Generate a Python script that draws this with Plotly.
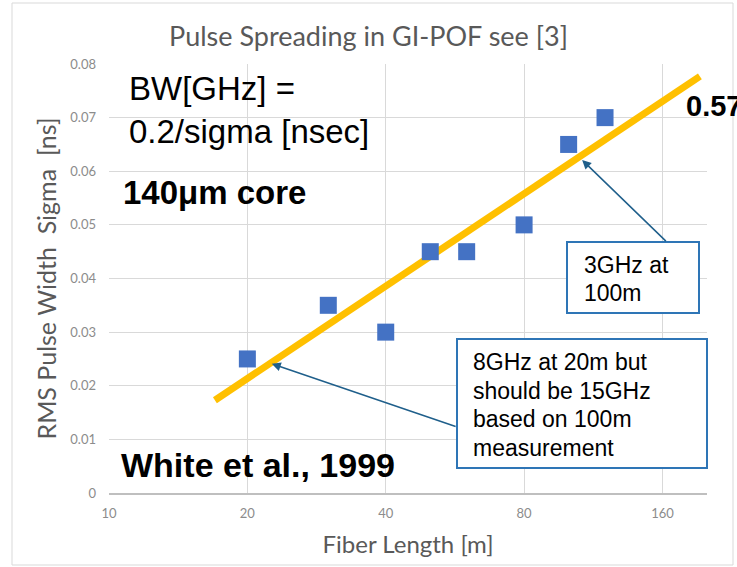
import numpy as np
import plotly.graph_objects as go

# Data
fiber_length = [20, 30, 40, 50, 60, 80, 100, 120]
sigma_ns = [0.025, 0.035, 0.030, 0.045, 0.045, 0.050, 0.065, 0.070]
trend_x = [17, 193]
trend_y = [0.0173, 0.0777]
x_ticks = [10, 20, 40, 80, 160]
y_ticks = [0, 0.01, 0.02, 0.03, 0.04, 0.05, 0.06, 0.07, 0.08]

W, H = 737, 567
L, R, T, B = 109, 30, 64, 74

fig = go.Figure()
fig.add_trace(go.Scatter(x=trend_x, y=trend_y, mode="lines",
                         line=dict(color="#FFC000", width=7), showlegend=False, hoverinfo="skip"))
fig.add_trace(go.Scatter(x=fiber_length, y=sigma_ns, mode="markers",
                         marker=dict(symbol="square", size=17, color="#4472C4"),
                         showlegend=False))

grid = "#D9D9D9"
sans = "Lato, Open Sans, sans-serif"
tickfont = dict(family=sans, size=13, color="#8C8C8C")
fig.update_xaxes(type="log", range=[np.log10(10), np.log10(200)],
                 tickvals=x_ticks, ticktext=[str(v) for v in x_ticks],
                 showgrid=True, gridcolor=grid, gridwidth=1,
                 showline=True, linecolor="#BFBFBF", linewidth=1.5,
                 zeroline=False, ticks="", tickfont=tickfont, ticklabelstandoff=8,
                 title=dict(text="Fiber Length [m]", font=dict(family=sans, size=24, color="#595959"),
                            standoff=16))
fig.update_yaxes(range=[0, 0.08], tickvals=y_ticks,
                 ticktext=["0"] + [f"{v:.2f}" for v in y_ticks[1:]],
                 showgrid=True, gridcolor=grid, gridwidth=1, zeroline=False,
                 showline=False, ticks="", tickfont=tickfont, ticklabelstandoff=12,
                 title=dict(text="RMS Pulse Width  Sigma  [ns]",
                            font=dict(family=sans, size=25, color="#595959"),
                            standoff=6))

def px(x):
    return (x - L) / (W - L - R)

def py(y):
    return 1 - (y - T) / (H - T - B)

ann = []
arial = "Liberation Sans, Arial, sans-serif"
ann.append(dict(xref="paper", yref="paper", x=px(127), y=py(88), xanchor="left", yanchor="middle",
                text="BW[GHz] =", showarrow=False, font=dict(family=arial, size=33, color="black")))
ann.append(dict(xref="paper", yref="paper", x=px(127), y=py(131), xanchor="left", yanchor="middle",
                text="0.2/sigma [nsec]", showarrow=False, font=dict(family=arial, size=33, color="black")))
ann.append(dict(xref="paper", yref="paper", x=px(121), y=py(193), xanchor="left", yanchor="middle",
                text="<b>140\u03bcm core</b>", showarrow=False, font=dict(family=arial, size=33, color="black")))
ann.append(dict(xref="paper", yref="paper", x=px(119), y=py(465), xanchor="left", yanchor="middle",
                text="<b>White et al., 1999</b>", showarrow=False, font=dict(family=arial, size=34, color="black")))
ann.append(dict(xref="paper", yref="paper", x=px(684), y=py(106), xanchor="left", yanchor="middle",
                text="<b>0.57</b>", showarrow=False, font=dict(family=arial, size=29, color="black")))

# arrows (data coords)
arrow_col = "#1F5F8B"
ann.append(dict(x=np.log10(107), y=0.0621, ax=np.log10(164), ay=0.0467, xref="x", yref="y",
                axref="x", ayref="y", showarrow=True, arrowhead=2, arrowsize=1.2, arrowwidth=1.5,
                arrowcolor=arrow_col, text=""))
ann.append(dict(x=np.log10(22.6), y=0.0241, ax=np.log10(57.2), ay=0.0123, xref="x", yref="y",
                axref="x", ayref="y", showarrow=True, arrowhead=2, arrowsize=1.2, arrowwidth=1.5,
                arrowcolor=arrow_col, text=""))

box_lines1 = ["3GHz at", "100m"]
for i, t in enumerate(box_lines1):
    ann.append(dict(xref="paper", yref="paper", x=px(582), y=py(265 + 28 * i), xanchor="left", yanchor="middle",
                    text=t, showarrow=False, font=dict(family=arial, size=23, color="black")))
box_lines2 = ["8GHz at 20m but", "should be 15GHz", "based on 100m", "measurement"]
for i, t in enumerate(box_lines2):
    ann.append(dict(xref="paper", yref="paper", x=px(471), y=py(362 + 28.5 * i), xanchor="left", yanchor="middle",
                    text=t, showarrow=False, font=dict(family=arial, size=23, color="black")))

shapes = [
    dict(type="rect", xref="paper", yref="paper", x0=px(567), x1=px(699), y0=py(313), y1=py(242),
         line=dict(color="#2E75B6", width=2), fillcolor="white", layer="above"),
    dict(type="rect", xref="paper", yref="paper", x0=px(457), x1=px(707), y0=py(468), y1=py(339),
         line=dict(color="#2E75B6", width=2), fillcolor="white", layer="above"),
    # outer chart frame
    dict(type="rect", xref="paper", yref="paper", x0=px(12), x1=px(733), y0=py(565), y1=py(3),
         line=dict(color="#D9D9D9", width=1), fillcolor="rgba(0,0,0,0)", layer="below"),
]

fig.update_layout(
    width=W, height=H,
    margin=dict(l=L, r=R, t=T, b=B),
    paper_bgcolor="white", plot_bgcolor="white",
    title=dict(text="Pulse Spreading in GI-POF see [3]", x=0.5, xanchor="center", y=1 - 37 / H, yanchor="middle",
               font=dict(family=sans, size=27, color="#595959")),
    annotations=ann, shapes=shapes,
)

fig.write_html("out.html")
